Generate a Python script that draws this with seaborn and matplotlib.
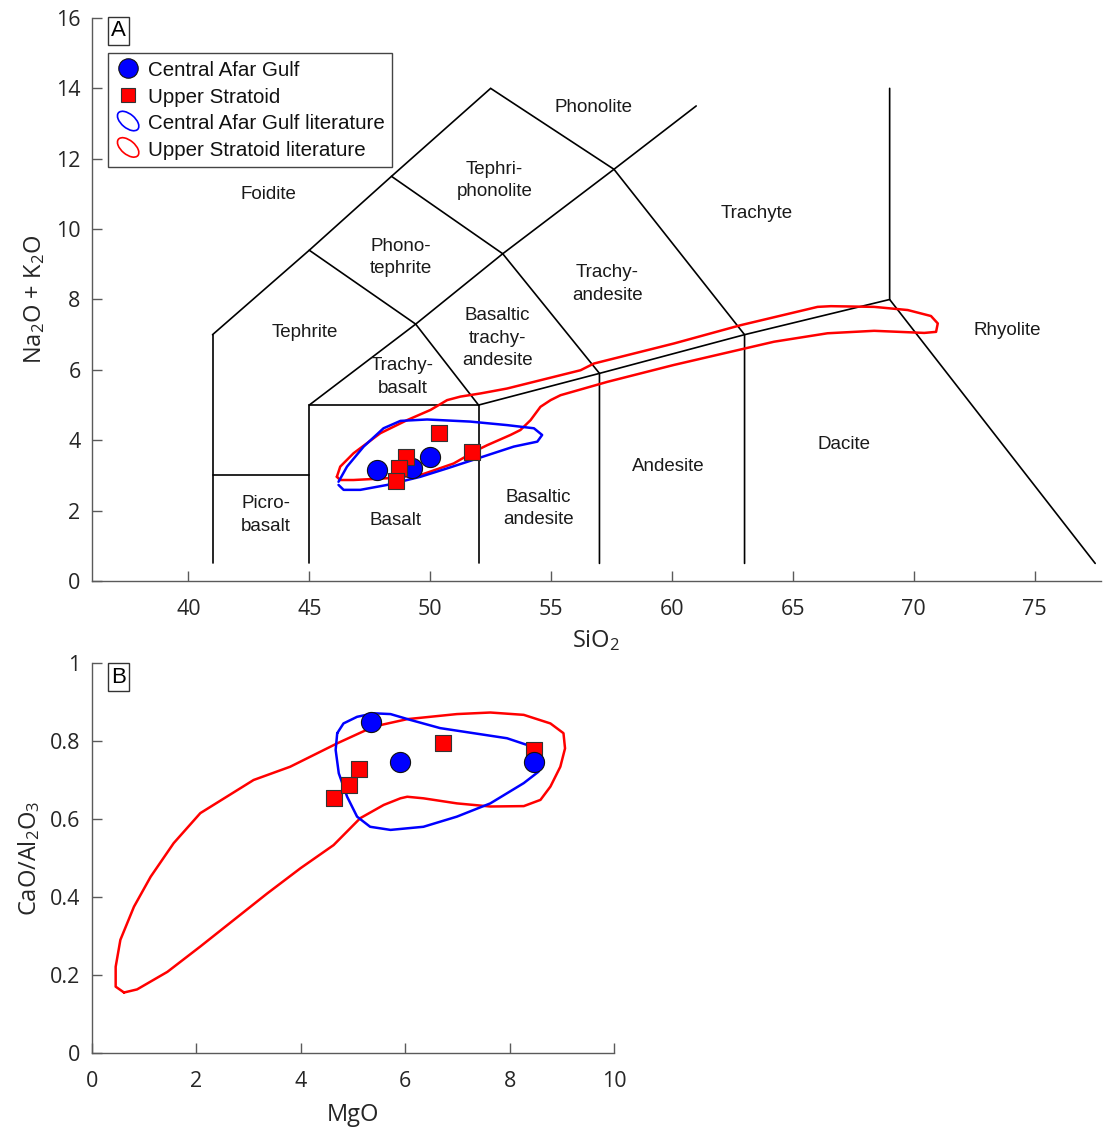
import numpy as np
import pandas as pd
import matplotlib
matplotlib.use("Agg")
import matplotlib.pyplot as plt
import seaborn as sns
from matplotlib.patches import Ellipse
from matplotlib.lines import Line2D
from matplotlib.legend_handler import HandlerPatch

# ---------------- data ----------------
# Panel A (TAS): SiO2, Na2O+K2O
caf_sio2 = [47.81, 49.25, 50.01]
caf_alk = [3.15, 3.20, 3.51]
us_sio2 = [50.35, 49.02, 48.70, 48.60, 51.73]
us_alk = [4.22, 3.51, 3.20, 2.85, 3.67]

# Panel B: MgO, CaO/Al2O3
caf_mgo = [5.35, 5.91, 8.46]
caf_ratio = [0.848, 0.745, 0.745]
us_mgo = [4.63, 4.93, 5.11, 6.72, 8.46]
us_ratio = [0.655, 0.687, 0.728, 0.796, 0.777]

# Literature envelopes, panel A
caf_env_a_x = [46.21, 46.56, 47.25, 48.07, 48.77, 49.87, 51.66, 53.18, 54.29, 54.63,
               54.43, 53.46, 52.08, 50.70, 49.59, 48.22, 47.11, 46.42, 46.21]
caf_env_a_y = [2.82, 3.25, 3.82, 4.34, 4.55, 4.59, 4.53, 4.43, 4.34, 4.15,
               3.96, 3.82, 3.51, 3.20, 2.96, 2.73, 2.59, 2.59, 2.73]
us_env_a_x = [46.14, 46.28, 46.83, 47.94, 49.04, 50.01, 50.70, 51.25, 52.08, 53.18,
              54.29, 56.22, 56.77, 60.08, 62.84, 66.02, 66.57, 68.36, 69.75, 70.71,
              70.99, 70.92, 70.43, 68.36, 66.43, 64.22, 62.84, 60.08, 57.33, 55.39,
              54.98, 54.56, 54.15, 53.73, 53.32, 52.36, 51.94, 50.97, 49.59, 48.22,
              46.83, 46.28, 46.14]
us_env_a_y = [2.96, 3.25, 3.63, 4.20, 4.57, 4.86, 5.14, 5.24, 5.33, 5.47,
              5.66, 5.99, 6.18, 6.75, 7.27, 7.79, 7.81, 7.79, 7.70, 7.53,
              7.32, 7.08, 7.05, 7.11, 7.04, 6.80, 6.58, 6.14, 5.66, 5.28,
              5.14, 4.95, 4.57, 4.29, 4.15, 3.86, 3.72, 3.34, 3.01, 2.92,
              2.87, 2.87, 2.96]

# Literature envelopes, panel B
us_env_b_x = [0.62, 0.46, 0.46, 0.55, 0.81, 1.13, 1.57, 2.08, 3.10, 3.80, 4.70, 5.40,
              6.04, 6.99, 7.63, 8.27, 8.78, 9.03, 9.06, 8.97, 8.78, 8.59, 8.27, 7.63,
              6.99, 6.35, 6.04, 5.91, 5.59, 5.14, 4.63, 4.00, 3.36, 2.72, 2.08, 1.45,
              0.87, 0.62]
us_env_b_y = [0.155, 0.170, 0.221, 0.290, 0.375, 0.452, 0.538, 0.615, 0.700, 0.734, 0.794, 0.837,
              0.856, 0.869, 0.873, 0.867, 0.845, 0.820, 0.781, 0.734, 0.683, 0.649, 0.633, 0.632,
              0.640, 0.653, 0.657, 0.653, 0.636, 0.602, 0.533, 0.474, 0.409, 0.341, 0.273, 0.208,
              0.163, 0.155]
caf_env_b_x = [4.70, 4.82, 5.08, 5.40, 5.72, 6.10, 6.67, 7.31, 7.95, 8.33, 8.59, 8.65,
               8.55, 8.27, 7.63, 6.99, 6.35, 5.72, 5.33, 5.08, 4.89, 4.73, 4.67, 4.70]
caf_env_b_y = [0.820, 0.845, 0.862, 0.871, 0.869, 0.854, 0.833, 0.820, 0.807, 0.790, 0.768, 0.747,
               0.721, 0.692, 0.640, 0.606, 0.580, 0.572, 0.580, 0.606, 0.657, 0.717, 0.777, 0.820]

# TAS field boundaries (Le Bas et al. 1986)
tas_lines = [
    [(41, 0.5), (41, 7)],
    [(41, 7), (45, 9.4), (48.4, 11.5), (52.5, 14), (57.6, 11.7), (63, 7), (63, 0.5)],
    [(41, 3), (45, 3)],
    [(45, 0.5), (45, 5), (52, 5), (52, 0.5)],
    [(45, 9.4), (49.4, 7.3), (52, 5)],
    [(45, 5), (49.4, 7.3), (53, 9.3), (57.6, 11.7), (61, 13.5)],
    [(48.4, 11.5), (53, 9.3), (57, 5.9), (57, 0.5)],
    [(52, 5), (57, 5.9), (63, 7), (69, 8), (69, 14)],
    [(69, 8), (77.5, 0.5)],
]
field_names = ["Foidite", "Phonolite", "Tephri-\nphonolite", "Trachyte", "Phono-\ntephrite",
               "Trachy-\nandesite", "Tephrite", "Basaltic\ntrachy-\nandesite", "Rhyolite",
               "Trachy-\nbasalt", "Dacite", "Andesite", "Basaltic\nandesite", "Picro-\nbasalt", "Basalt"]
field_x = [43.3, 56.74, 52.65, 63.52, 48.77, 57.32, 44.8, 52.78, 73.85, 48.85, 67.12, 59.84, 54.47, 43.19, 48.56]
field_y = [10.97, 13.47, 11.39, 10.43, 9.2, 8.44, 7.07, 6.9, 7.13, 5.8, 3.89, 3.24, 2.07, 1.875, 1.73]

xticks_a = [40, 45, 50, 55, 60, 65, 70, 75]
yticks_a = [0, 2, 4, 6, 8, 10, 12, 14, 16]
xticks_b = [0, 2, 4, 6, 8, 10]
yticks_b = [0, 0.2, 0.4, 0.6, 0.8, 1]

# ---------------- style ----------------
sns.set_theme(style="ticks")
plt.rcParams['font.family'] = ['Liberation Sans', 'DejaVu Sans']
plt.rcParams['mathtext.fontset'] = 'custom'
plt.rcParams['mathtext.rm'] = 'Open Sans'
plt.rcParams['mathtext.it'] = 'Open Sans:italic'
plt.rcParams['mathtext.bf'] = 'Open Sans:bold'
plt.rcParams['mathtext.default'] = 'regular'

BLUE = "#0000FF"
RED = "#FF0000"
SPINE = "#5a5a5a"
TXT = "#262626"

fig = plt.figure(figsize=(11.04, 11.31), dpi=100)
axA = fig.add_axes([0.0830, 0.4863, 0.9145, 0.4978])
axB = fig.add_axes([0.0830, 0.0690, 0.4733, 0.3448])

def style_axes(ax):
    for s in ["top", "right"]:
        ax.spines[s].set_visible(False)
    for s in ["left", "bottom"]:
        ax.spines[s].set_color(SPINE)
        ax.spines[s].set_linewidth(1.0)
    ax.tick_params(direction="in", length=7, width=1.0, color=SPINE,
                   labelsize=15.5, labelcolor=TXT)
    ax.tick_params(axis="x", pad=13)
    ax.tick_params(axis="y", pad=8)
    for lab in ax.get_xticklabels() + ax.get_yticklabels():
        lab.set_fontfamily(['Open Sans', 'DejaVu Sans'])

# ---------------- panel A ----------------
for seg in tas_lines:
    xs = [p[0] for p in seg]
    ys = [p[1] for p in seg]
    axA.plot(xs, ys, color="black", lw=1.2, solid_joinstyle="miter", zorder=1)

for name, x, y in zip(field_names, field_x, field_y):
    axA.text(x, y, name, ha="center", va="center", fontsize=13.5, color="#1a1a1a",
             linespacing=1.4, zorder=2)

axA.plot(us_env_a_x, us_env_a_y, color=RED, lw=1.8, zorder=3, solid_joinstyle="round")
axA.plot(caf_env_a_x, caf_env_a_y, color=BLUE, lw=1.8, zorder=3, solid_joinstyle="round")

dfA_caf = pd.DataFrame({"SiO2": caf_sio2, "alk": caf_alk})
dfA_us = pd.DataFrame({"SiO2": us_sio2, "alk": us_alk})
sns.scatterplot(data=dfA_caf, x="SiO2", y="alk", ax=axA, marker="o", s=210,
                color=BLUE, edgecolor="#111111", linewidth=0.8, zorder=4, legend=False)
sns.scatterplot(data=dfA_us, x="SiO2", y="alk", ax=axA, marker="s", s=120,
                color=RED, edgecolor="#333333", linewidth=0.8, zorder=5, legend=False)

axA.set_xlim(36, 77.75)
axA.set_ylim(0, 16)
axA.set_xticks(xticks_a)
axA.set_yticks(yticks_a)
style_axes(axA)
axA.set_xlabel("SiO$_2$", fontsize=17, color=TXT, family=['Open Sans', 'DejaVu Sans'], labelpad=6)
axA.set_ylabel("Na$_2$O + K$_2$O", fontsize=17, color=TXT, family=['Open Sans', 'DejaVu Sans'], labelpad=6)

axA.text(0.0267, 0.977, "A", transform=axA.transAxes, ha="center", va="center", fontsize=16,
         color="black", bbox=dict(boxstyle="square,pad=0.15", fc="white", ec="#333333", lw=1.0))

class HandlerEllipse(HandlerPatch):
    def create_artists(self, legend, orig_handle, xdescent, ydescent, width, height, fontsize, trans):
        center = 0.5 * width - 0.5 * xdescent, 0.5 * height - 0.5 * ydescent
        p = Ellipse(xy=center, width=width * 0.95, height=height * 0.75, angle=-40,
                    fill=False, edgecolor=orig_handle.get_edgecolor(), lw=1.2)
        p.set_transform(trans)
        return [p]

h1 = Line2D([], [], marker="o", ls="none", color=BLUE, markeredgecolor="#111111",
            markersize=14, markeredgewidth=0.8)
h2 = Line2D([], [], marker="s", ls="none", color=RED, markeredgecolor="#333333",
            markersize=10.5, markeredgewidth=0.8)
h3 = Ellipse((0, 0), 1, 1, fill=False, edgecolor=BLUE)
h4 = Ellipse((0, 0), 1, 1, fill=False, edgecolor=RED)
leg = axA.legend([h1, h2, h3, h4],
                 ["Central Afar Gulf", "Upper Stratoid", "Central Afar Gulf literature",
                  "Upper Stratoid literature"],
                 handler_map={Ellipse: HandlerEllipse()},
                 loc="upper left", bbox_to_anchor=(0.0158, 0.938), borderaxespad=0,
                 fontsize=14.8, frameon=True, fancybox=False, framealpha=1,
                 edgecolor="#444444", handlelength=1.3, handleheight=1.0,
                 handletextpad=0.3, labelspacing=0.3, borderpad=0.35)
leg.get_frame().set_linewidth(1.0)
for t in leg.get_texts():
    t.set_color("#111111")

# ---------------- panel B ----------------
axB.plot(us_env_b_x, us_env_b_y, color=RED, lw=1.8, zorder=3, solid_joinstyle="round")
axB.plot(caf_env_b_x, caf_env_b_y, color=BLUE, lw=1.8, zorder=3, solid_joinstyle="round")

dfB_caf = pd.DataFrame({"MgO": caf_mgo, "ratio": caf_ratio})
dfB_us = pd.DataFrame({"MgO": us_mgo, "ratio": us_ratio})
sns.scatterplot(data=dfB_us, x="MgO", y="ratio", ax=axB, marker="s", s=120,
                color=RED, edgecolor="#333333", linewidth=0.8, zorder=4, legend=False)
sns.scatterplot(data=dfB_caf, x="MgO", y="ratio", ax=axB, marker="o", s=210,
                color=BLUE, edgecolor="#111111", linewidth=0.8, zorder=5, legend=False)

axB.set_xlim(0, 10)
axB.set_ylim(0, 1)
axB.set_xticks(xticks_b)
axB.set_yticks(yticks_b)
axB.set_yticklabels(["0", "0.2", "0.4", "0.6", "0.8", "1"])
style_axes(axB)
axB.set_xlabel("MgO", fontsize=17, color=TXT, family=['Open Sans', 'DejaVu Sans'], labelpad=8)
axB.set_ylabel("CaO/Al$_2$O$_3$", fontsize=17, color=TXT, family=['Open Sans', 'DejaVu Sans'], labelpad=6)

axB.text(0.0516, 0.964, "B", transform=axB.transAxes, ha="center", va="center", fontsize=16,
         color="black", bbox=dict(boxstyle="square,pad=0.15", fc="white", ec="#333333", lw=1.0))

fig.savefig("out.png", dpi=100)
